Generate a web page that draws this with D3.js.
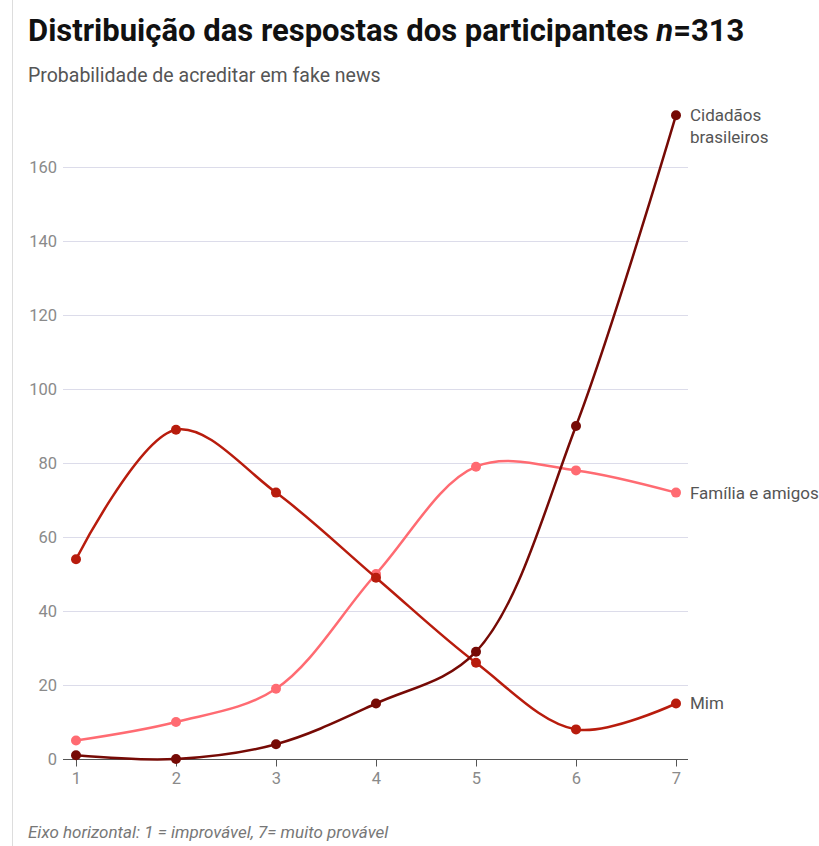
<!DOCTYPE html>
<html>
<head>
<meta charset="utf-8">
<script src="https://cdn.jsdelivr.net/npm/d3@7"></script>
<style>
  body { margin: 0; background: #fff; font-family: Roboto, sans-serif; }
  .grid line { stroke: #dcdcea; stroke-width: 1; }
  .axis text { fill: #8a8a8a; font-size: 16.5px; font-family: Roboto, sans-serif; }
</style>
</head>
<body>
<div id="chart"></div>
<script>
// data
var steps = [1, 2, 3, 4, 5, 6, 7];
var mim = [54, 89, 72, 49, 26, 8, 15];
var familia = [5, 10, 19, 50, 79, 78, 72];
var cidadaos = [1, 0, 4, 15, 29, 90, 174];
var yTicks = [0, 20, 40, 60, 80, 100, 120, 140, 160];

var series = [
  { name: ['Família e amigos'], values: familia, color: '#ff6b72' },
  { name: ['Mim'], values: mim, color: '#b81c0d' },
  { name: ['Cidadãos', 'brasileiros'], values: cidadaos, color: '#760a05' }
];

const W = 819, H = 846;
const left = 63, right = 688, bottom = 759;

var svg = d3.select('#chart').append('svg')
            .attr('width', W)
            .attr('height', H);

// left border
svg.append('line')
   .attr('x1', 12.5).attr('x2', 12.5)
   .attr('y1', 0).attr('y2', H)
   .attr('stroke', '#ddd');

// title
var title = svg.append('text')
   .attr('x', 28).attr('y', 41)
   .style('font-size', '31px')
   .style('font-weight', 'bold')
   .style('fill', '#111')
   .style('font-family', 'Roboto, sans-serif');
title.append('tspan').text('Distribuição das respostas dos participantes ');
title.append('tspan').style('font-style', 'italic').text('n');
title.append('tspan').text('=313');

svg.append('text')
   .attr('x', 28).attr('y', 82)
   .style('font-size', '19.5px')
   .style('fill', '#555')
   .text('Probabilidade de acreditar em fake news');

svg.append('text')
   .attr('x', 28).attr('y', 838)
   .style('font-size', '17px')
   .style('font-style', 'italic')
   .style('fill', '#777')
   .text('Eixo horizontal: 1 = improvável, 7= muito provável');

var x = d3.scaleLinear().domain([1, 7]).range([76, 676]);
var y = d3.scaleLinear().domain([0, 160]).range([bottom, 167]);

// grid + y labels
var grid = svg.append('g').attr('class', 'grid axis');
grid.selectAll('line').data(yTicks.filter(d => d > 0)).enter()
    .append('line')
    .attr('x1', left).attr('x2', right)
    .attr('y1', d => y(d) + 0.5).attr('y2', d => y(d) + 0.5);
grid.selectAll('text').data(yTicks).enter()
    .append('text')
    .attr('x', 57)
    .attr('y', d => y(d))
    .attr('dy', '0.35em')
    .attr('text-anchor', 'end')
    .text(d => d);

// x axis
var xAxis = svg.append('g')
   .attr('class', 'axis')
   .attr('transform', 'translate(0,' + (bottom + 0.5) + ')')
   .call(d3.axisBottom(x).tickValues(steps).tickSize(7).tickPadding(6).tickFormat(d3.format('d')));
xAxis.select('.domain').attr('d', 'M' + left + ',0H' + right).attr('stroke', '#555');
xAxis.selectAll('.tick line').attr('stroke', '#555');

// lines
var line = d3.line()
   .x((d, i) => x(steps[i]))
   .y(d => y(d))
   .curve(d3.curveCatmullRom.alpha(0.5));

var groups = svg.selectAll('g.series').data(series).enter()
   .append('g').classed('series', true);

groups.append('path')
   .attr('d', d => line(d.values))
   .attr('fill', 'none')
   .attr('stroke', d => d.color)
   .attr('stroke-width', 2.5);

groups.selectAll('circle').data(d => d.values.map(v => ({ v: v, color: d.color }))).enter()
   .append('circle')
   .attr('cx', (d, i) => x(steps[i]))
   .attr('cy', d => y(d.v))
   .attr('r', 5)
   .attr('fill', d => d.color);

// end labels
groups.each(function (d) {
  var t = d3.select(this).append('text')
     .attr('x', x(7) + 14)
     .attr('y', y(d.values[d.values.length - 1]))
     .style('font-size', '17px')
     .style('fill', '#555');
  d.name.forEach(function (n, i) {
    t.append('tspan').attr('x', x(7) + 14).attr('dy', i === 0 ? '0.35em' : '1.3em').text(n);
  });
});
</script>
</body>
</html>
